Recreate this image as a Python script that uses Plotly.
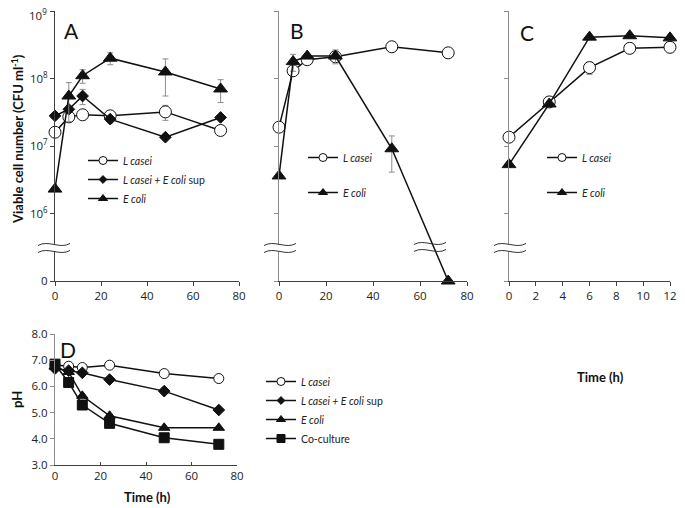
import plotly.graph_objects as go

W, H = 685, 508
OFF = 8                       # default page margin around the figure
FONT = "Open Sans"
TFONT = "Lato"

# ---------------- data ----------------
timeA = [0, 6, 12, 24, 48, 72]
A_lcasei = [1.6e7, 2.7e7, 2.9e7, 2.8e7, 3.2e7, 1.7e7]
A_lcasei_err = [0, 0, 0, 0, 0.8e7, 0]
A_lcasei_sup = [2.8e7, 3.5e7, 5.5e7, 2.5e7, 1.35e7, 2.65e7]
A_lcasei_sup_err = [0, 0, 1.4e7, 0.3e7, 0, 0]
A_ecoli = [2.3e6, 5.5e7, 1.1e8, 2.0e8, 1.25e8, 7.0e7]
A_ecoli_err = [0, 3.2e7, 2.5e7, 4.0e7, 7.0e7, 2.6e7]

timeB = [0, 6, 12, 24, 48, 72]
B_lcasei = [1.9e7, 1.3e8, 1.9e8, 2.1e8, 2.95e8, 2.4e8]
B_lcasei_err = [0, 0, 0, 0, 0, 0]
B_ecoli = [3.6e6, 1.78e8, 2.15e8, 2.15e8, 9.1e6, 0]
B_ecoli_err = [0, 5e7, 0, 5e7, 5e6, 0]

timeC = [0, 3, 6, 9, 12]
C_lcasei = [1.35e7, 4.5e7, 1.45e8, 2.8e8, 2.9e8]
C_lcasei_err = [0, 8e6, 3e7, 0, 0]
C_ecoli = [5.3e6, 4.2e7, 4.1e8, 4.3e8, 4.0e8]
C_ecoli_err = [0, 0, 0, 0, 0]

timeD = [0, 6, 12, 24, 48, 72]
D_lcasei = [6.82, 6.77, 6.72, 6.81, 6.49, 6.30]
D_lcasei_sup = [6.68, 6.60, 6.52, 6.26, 5.82, 5.10]
D_ecoli = [6.75, 6.55, 5.64, 4.88, 4.42, 4.42]
D_coculture = [6.85, 6.15, 5.29, 4.59, 4.04, 3.79]

count_ticks = [1e5, 1e6, 1e7, 1e8, 1e9]
count_ticktext = ["0", "10<sup>6</sup>", "10<sup>7</sup>", "10<sup>8</sup>", ""]
top_ticktext = "10<sup>9</sup>"   # drawn just inside the page so it is not clipped
ZERO_LEVEL = 1e5  # where a count of 0 sits on the broken log axis

# names
N_LC = "<i>L casei</i>"
N_LCS = "<i>L casei + E coli</i> sup"
N_EC = "<i>E coli</i>"
N_CO = "Co-culture"


def on_axis(vals):
    return [v if v > 0 else ZERO_LEVEL for v in vals]


def px_x(x):
    return (x - OFF) / W


def px_y(y):
    return 1 - (y - OFF) / H


BLACK = "#111111"
AXC = "#404040"
GRAY = "#8c8c8c"
ERRC = "#8c8c8c"

fig = go.Figure()

SYM = {
    "lc": dict(symbol="circle", size=12, color="white", line=dict(color=BLACK, width=1)),
    "lcs": dict(symbol="diamond", size=9, color=BLACK, line=dict(color=BLACK, width=1)),
    "ec": dict(symbol="triangle-up", size=12, color=BLACK, line=dict(color=BLACK, width=1)),
    "co": dict(symbol="square", size=10, color=BLACK, line=dict(color=BLACK, width=1)),
}
LEG_SIZE = {"lc": 8, "lcs": 6, "ec": 8, "co": 8}


def add(x, y, err, key, name, xa, ya, legend, size=None):
    m = dict(SYM[key])
    if size:
        m["size"] = size
    tr = dict(
        x=x, y=y, mode="lines+markers", name=name,
        line=dict(color=BLACK, width=1.5), marker=m,
        xaxis=xa, yaxis=ya, showlegend=False,
        cliponaxis=False,
    )
    if err is not None:
        tr["error_y"] = dict(type="data", array=err, visible=True, color=ERRC,
                             thickness=1, width=3)
    fig.add_trace(go.Scatter(**tr))
    # legend entry with a smaller symbol (draws no data)
    lm = dict(SYM[key])
    lm["size"] = LEG_SIZE[key]
    fig.add_trace(go.Scatter(
        x=[None], y=[None], mode="lines+markers", name=name,
        line=dict(color=BLACK, width=1.5), marker=lm,
        xaxis=xa, yaxis=ya, legend=legend, legendgroup=legend + key,
        showlegend=True,
    ))


# Panel A
add(timeA, A_lcasei, A_lcasei_err, "lc", N_LC, "x", "y", "legend")
add(timeA, A_lcasei_sup, A_lcasei_sup_err, "lcs", N_LCS, "x", "y", "legend")
add(timeA, A_ecoli, A_ecoli_err, "ec", N_EC, "x", "y", "legend")
# Panel B
add(timeB, on_axis(B_lcasei), B_lcasei_err, "lc", N_LC, "x2", "y2", "legend2")
add(timeB, on_axis(B_ecoli), B_ecoli_err, "ec", N_EC, "x2", "y2", "legend2")
# Panel C
add(timeC, on_axis(C_lcasei), C_lcasei_err, "lc", N_LC, "x3", "y3", "legend3")
add(timeC, on_axis(C_ecoli), C_ecoli_err, "ec", N_EC, "x3", "y3", "legend3")
# Panel D
add(timeD, D_lcasei, None, "lc", N_LC, "x4", "y4", "legend4", size=10)
add(timeD, D_lcasei_sup, None, "lcs", N_LCS, "x4", "y4", "legend4", size=9)
add(timeD, D_ecoli, None, "ec", N_EC, "x4", "y4", "legend4", size=10)
add(timeD, D_coculture, None, "co", N_CO, "x4", "y4", "legend4", size=10)

tickfont = dict(family=FONT, size=11.5, color="#222222")


def xax(domain, rng, dtick, anchor, ticks="outside", ticklen=4):
    return dict(domain=domain, range=rng, dtick=dtick, tick0=0, anchor=anchor,
                showline=True, linecolor=AXC, linewidth=1, ticks=ticks,
                ticklen=ticklen, tickcolor=AXC, showgrid=False, zeroline=False,
                tickfont=tickfont, automargin=False, ticklabeloverflow="allow")


def yax_count(domain, anchor, labels, lc):
    return dict(domain=domain, type="log", range=[5, 9], anchor=anchor,
                tickvals=count_ticks,
                ticktext=count_ticktext if labels else [""] * 5,
                showline=True, linecolor=lc, linewidth=1, ticks="outside",
                ticklen=4, tickcolor=lc, showgrid=False, zeroline=False,
                tickfont=tickfont, automargin=False, ticklabeloverflow="allow")


top_dom = [px_y(281), px_y(11)]
fig.update_layout(
    xaxis=xax([px_x(55), px_x(239)], [0, 80], 20, "y"),
    yaxis=yax_count(top_dom, "x", True, AXC),
    xaxis2=xax([px_x(279), px_x(467)], [0, 80], 20, "y2"),
    yaxis2=yax_count(top_dom, "x2", False, GRAY),
    xaxis3=xax([px_x(509), px_x(670)], [0, 12], 2, "y3"),
    yaxis3=yax_count(top_dom, "x3", False, GRAY),
    xaxis4=xax([px_x(55), px_x(237)], [0, 80], 20, "y4", ticks="inside", ticklen=3),
    yaxis4=dict(domain=[px_y(465), px_y(334)], range=[3, 8], dtick=1, tick0=3,
                tickformat=".1f", anchor="x4", showline=True, linecolor=GRAY,
                linewidth=1, ticks="outside", ticklen=4, tickcolor=GRAY,
                showgrid=False, zeroline=False, tickfont=tickfont, automargin=False),
)


def leg(xp, yp, gap):
    return dict(x=px_x(xp), y=px_y(yp), xanchor="left", yanchor="top",
                bgcolor="rgba(0,0,0,0)", borderwidth=0,
                font=dict(family=TFONT, size=10.5, color="#222222"),
                tracegroupgap=gap, traceorder="grouped", itemsizing="trace")


fig.update_layout(
    legend=leg(83, 146, 0),
    legend2=leg(303, 143, 16),
    legend3=leg(542, 143, 16),
    legend4=leg(261, 367, 0),
)

ann = []
for lab, xp, yp in [("A", 72, 30), ("B", 297, 30), ("C", 527, 32), ("D", 68, 349)]:
    ann.append(dict(text=lab, x=px_x(xp), y=px_y(yp), xref="paper", yref="paper",
                    xanchor="center", yanchor="middle",
                    showarrow=False, font=dict(family=TFONT, size=21, color=BLACK)))
for txt, xp, yp, ang, fs in [
    ("<b>Viable cell number (CFU ml<sup>-1</sup>)</b>", 17, 139, -90, 13),
    ("<b>Time (h)</b>", 600, 377, 0, 13),
    ("<b>pH</b>", 17, 400, -90, 13),
    ("<b>Time (h)</b>", 147, 497, 0, 13),
]:
    ann.append(dict(text=txt, x=px_x(xp), y=px_y(yp), xref="paper", yref="paper",
                    xanchor="center", yanchor="middle", textangle=ang, showarrow=False,
                    font=dict(family=TFONT, size=fs, color=BLACK)))
ann.append(dict(text=top_ticktext, x=px_x(49), y=px_y(15), xref="paper", yref="paper",
                xanchor="right", yanchor="middle", showarrow=False, font=tickfont))
fig.update_layout(annotations=ann)


def wave(cx, cy, hw=16):
    x0, x1 = cx - hw, cx + hw
    return (f"{x0},{cy+1} C {cx-6},{cy-5} {cx+6},{cy+5} {x1},{cy-1}")


def to_paper_path(pts_str):
    out = []
    for tok in pts_str.split():
        if "," in tok:
            a, b = tok.split(",")
            out.append(f"{px_x(float(a)):.5f},{px_y(float(b)):.5f}")
        else:
            out.append(tok)
    return " ".join(out)


shapes = []


def add_break(cx, cy, fill=True, gap=7):
    up = wave(cx, cy - gap / 2)
    lo = wave(cx, cy + gap / 2)
    if fill:
        hw = 16
        p = (f"M {cx-hw},{cy-gap/2+1} C {cx-6},{cy-gap/2-5} {cx+6},{cy-gap/2+5} {cx+hw},{cy-gap/2-1} "
             f"L {cx+hw},{cy+gap/2-1} C {cx+6},{cy+gap/2+5} {cx-6},{cy+gap/2-5} {cx-hw},{cy+gap/2+1} Z")
        shapes.append(dict(type="path", xref="paper", yref="paper", path=to_paper_path(p),
                           fillcolor="white", line=dict(width=0), layer="above"))
    for w in (up, lo):
        shapes.append(dict(type="path", xref="paper", yref="paper",
                           path=to_paper_path("M " + w), line=dict(color="#333333", width=1),
                           layer="above"))


add_break(54, 248)
add_break(280, 248)
add_break(430, 247, fill=False)
add_break(510, 248)
fig.update_layout(shapes=shapes)

fig.update_layout(width=W, height=H, margin=dict(l=0, r=0, t=0, b=0, autoexpand=False),
                  plot_bgcolor="white", paper_bgcolor="white", showlegend=True)

fig.write_html("out.html")
